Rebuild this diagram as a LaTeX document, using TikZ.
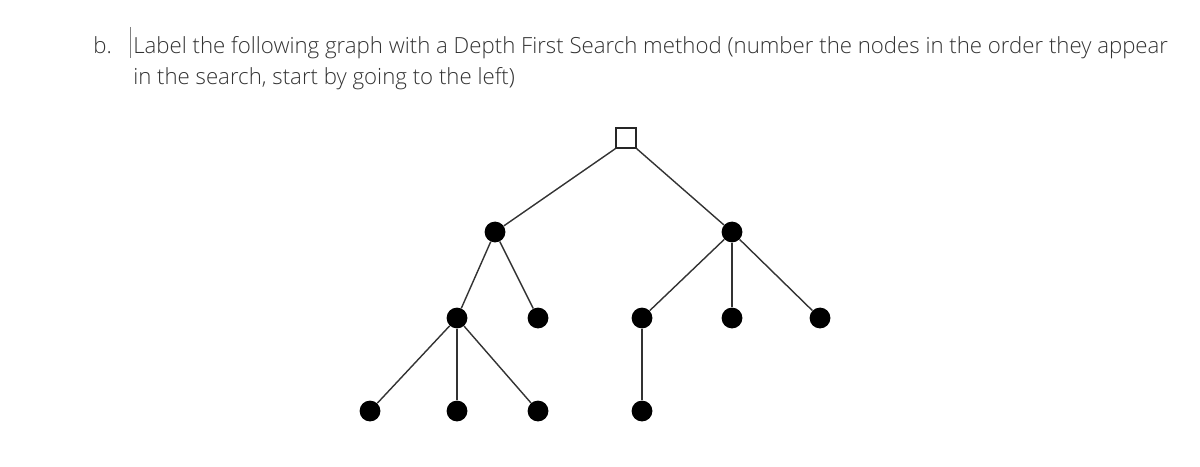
\documentclass[tikz,border=0pt]{standalone}
\usepackage{fontspec}
\setmainfont{Open Sans}[UprightFont=* Light]
\begin{document}
\begin{tikzpicture}[x=0.025cm, y=-0.025cm,
    dot/.style={circle, fill=black, inner sep=0pt, minimum size=0.52cm},
    box/.style={draw=black!85, line width=1pt, fill=white, inner sep=0pt, minimum size=0.5cm},
    edge/.style={black!80, line width=1pt},
    qtext/.style={anchor=base west, inner sep=0pt, text=black!80, font=\fontsize{15.8}{20}\selectfont}]
    \useasboundingbox (0,0) rectangle (1200,466);

    % Question text
    \node[qtext] (qnum) at (93,54) {b.};
    \node[qtext] (qline1) at (133,54) {Label the following graph with a Depth First Search method (number the nodes in the order they appear};
    \node[qtext] (qline2) at (133,85) {in the search, start by going to the left)};
    \coordinate (cursortop) at (130,27);
    \coordinate (cursorbot) at (130,58);
    \draw[black!50, line width=0.4pt] (cursortop) -- (cursorbot);

    % Tree nodes
    \node[box] (root) at (626,138) {};

    \node[dot] (a) at (495,232) {};
    \node[dot] (b) at (732,232) {};

    \node[dot] (aa) at (457,318) {};
    \node[dot] (ab) at (538,318) {};
    \node[dot] (ba) at (642,318) {};
    \node[dot] (bb) at (732,318) {};
    \node[dot] (bc) at (820,318) {};

    \node[dot] (aaa) at (370,411) {};
    \node[dot] (aab) at (457,411) {};
    \node[dot] (aac) at (538,411) {};
    \node[dot] (baa) at (642,411) {};

    % Edges
    \draw[edge] (root.south west) -- (a);
    \draw[edge] (root.south east) -- (b);
    \draw[edge] (a) -- (aa);
    \draw[edge] (a) -- (ab);
    \draw[edge] (b) -- (ba);
    \draw[edge] (b) -- (bb);
    \draw[edge] (b) -- (bc);
    \draw[edge] (aa) -- (aaa);
    \draw[edge] (aa) -- (aab);
    \draw[edge] (aa) -- (aac);
    \draw[edge] (ba) -- (baa);
\end{tikzpicture}
\end{document}
